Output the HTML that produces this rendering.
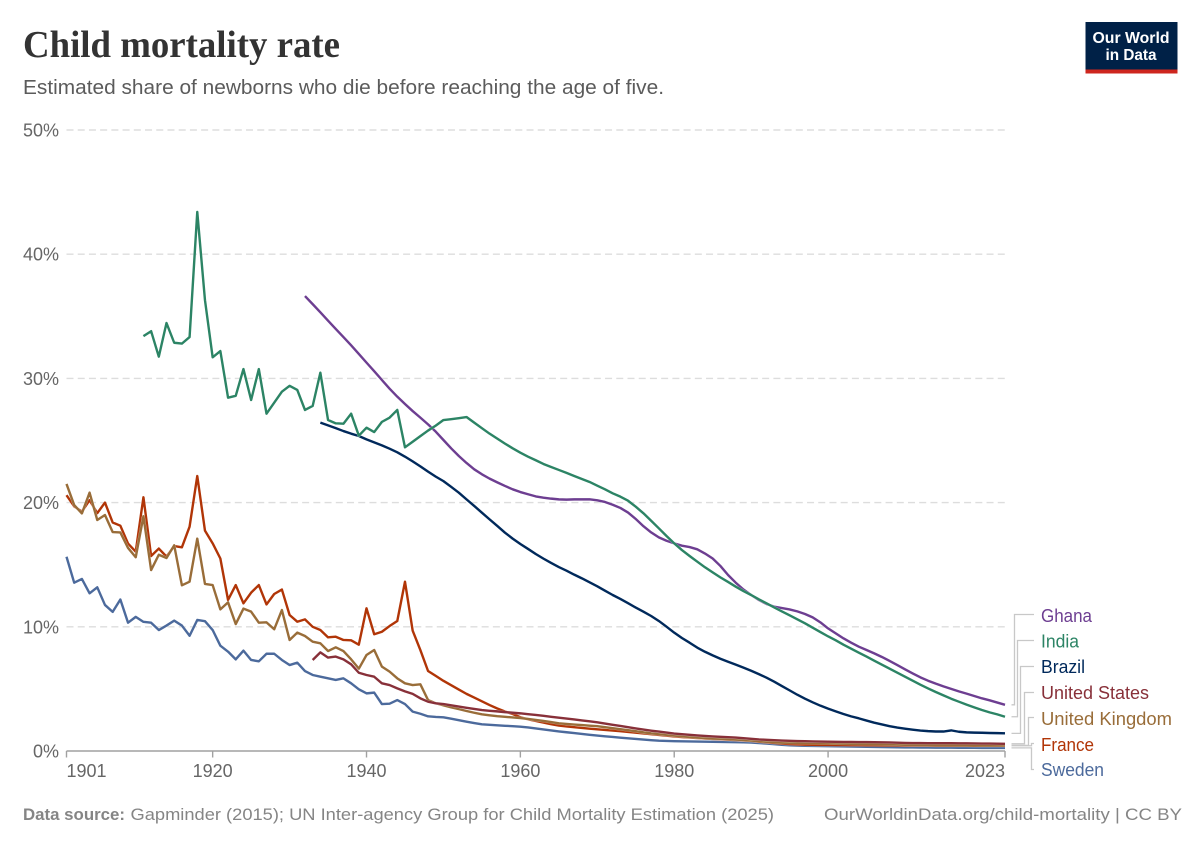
<!DOCTYPE html>
<html lang="en">
<head>
<meta charset="utf-8">
<title>Child mortality rate</title>
<style>
html,body{margin:0;padding:0;background:#fff;width:1200px;height:847px;overflow:hidden}
svg{display:block;font-family:"Liberation Sans",sans-serif}
</style>
</head>
<body>
<svg id="chart" xmlns="http://www.w3.org/2000/svg" width="1200" height="847" viewBox="0 0 1200 847">
  <text x="23" y="57" font-family="'Liberation Serif',serif" font-weight="700" font-size="38" fill="#333333" textLength="317" lengthAdjust="spacingAndGlyphs">Child mortality rate</text>
  <text x="23" y="94" font-size="20" fill="#5b5b5b" textLength="641" lengthAdjust="spacingAndGlyphs">Estimated share of newborns who die before reaching the age of five.</text>

  <g>
    <rect x="1085.5" y="22" width="92" height="51.5" fill="#002147"/>
    <rect x="1085.5" y="69.5" width="92" height="4" fill="#ce261e"/>
    <text x="1092.5" y="43" font-size="16" font-weight="700" fill="#fff" textLength="77" lengthAdjust="spacingAndGlyphs">Our World</text>
    <text x="1105.5" y="60" font-size="16" font-weight="700" fill="#fff" textLength="51" lengthAdjust="spacingAndGlyphs">in Data</text>
  </g>

  <g id="grid"></g>
  <g id="yticks"></g>
  <g id="xaxis"></g>
  <g id="connectors" fill="none" stroke="#c8c8c8" stroke-width="1.3"></g>
  <g id="lines" fill="none" stroke-linejoin="round"></g>

  <g font-size="18">
    <text x="1041" y="622" fill="#6d3e91" textLength="51" lengthAdjust="spacingAndGlyphs">Ghana</text>
    <text x="1041" y="647.5" fill="#2c8465" textLength="38" lengthAdjust="spacingAndGlyphs">India</text>
    <text x="1041" y="673" fill="#00295b" textLength="44" lengthAdjust="spacingAndGlyphs">Brazil</text>
    <text x="1041" y="699" fill="#883039" textLength="108" lengthAdjust="spacingAndGlyphs">United States</text>
    <text x="1041" y="725" fill="#996d39" textLength="131" lengthAdjust="spacingAndGlyphs">United Kingdom</text>
    <text x="1041" y="751" fill="#b13507" textLength="53" lengthAdjust="spacingAndGlyphs">France</text>
    <text x="1041" y="776" fill="#4c6a9c" textLength="63" lengthAdjust="spacingAndGlyphs">Sweden</text>
  </g>

  <text x="23" y="820" font-size="17" font-weight="700" fill="#858585" textLength="102" lengthAdjust="spacingAndGlyphs">Data source:</text>
  <text x="130.5" y="820" font-size="17" fill="#858585" textLength="643.5" lengthAdjust="spacingAndGlyphs">Gapminder (2015); UN Inter-agency Group for Child Mortality Estimation (2025)</text>
  <text x="824" y="820" font-size="17" fill="#858585" textLength="358" lengthAdjust="spacingAndGlyphs">OurWorldinData.org/child-mortality  | CC BY</text>
</svg>
<script>
var yTickValues = [0, 10, 20, 30, 40, 50];
var xTickYears = [1901, 1920, 1940, 1960, 1980, 2000, 2023];
var firstYear = 1901;
var lastYear = 2023;
var maxShare = 50;

var swedenStart = 1901;
var swedenValues = [
15.64,13.55,13.85,12.7,13.18,11.76,11.2,12.2,10.33,10.8,
10.4,10.33,9.74,10.1,10.5,10.1,9.28,10.55,10.45,9.74,
8.48,8.0,7.38,8.08,7.33,7.22,7.83,7.83,7.33,6.92,
7.11,6.44,6.12,5.98,5.85,5.72,5.85,5.45,4.97,4.64,
4.7,3.78,3.81,4.1,3.78,3.17,3.0,2.79,2.74,2.71,
2.6,2.48,2.36,2.25,2.15,2.11,2.07,2.03,2.0,1.96,
1.9,1.82,1.74,1.66,1.58,1.51,1.44,1.37,1.3,1.24,
1.18,1.13,1.07,1.02,.97,.92,.87,.83,.81,.79,
.78,.77,.76,.75,.74,.73,.72,.71,.7,.68,
.64,.6,.55,.5,.46,.44,.42,.41,.4,.39,
.38,.37,.36,.35,.34,.33,.32,.31,.3,.29,
.29,.28,.28,.27,.27,.27,.26,.26,.26,.25,
.25,.25,.25];

var franceStart = 1901;
var franceValues = [
20.6,19.7,19.27,20.2,19.15,20.0,18.4,18.14,16.7,16.05,
20.43,15.7,16.3,15.65,16.5,16.4,18.06,22.14,17.74,16.72,
15.5,12.16,13.36,11.89,12.75,13.36,11.8,12.64,13.0,10.95,
10.41,10.6,10.0,9.74,9.15,9.2,8.94,8.91,8.56,11.49,
9.4,9.6,10.06,10.47,13.63,9.69,8.13,6.44,6.05,5.65,
5.3,4.95,4.6,4.3,4.0,3.7,3.42,3.18,2.98,2.72,
2.55,2.42,2.29,2.16,2.05,1.98,1.92,1.86,1.8,1.75,
1.7,1.65,1.6,1.54,1.48,1.41,1.35,1.29,1.23,1.17,
1.12,1.08,1.04,1.0,.97,.94,.91,.88,.85,.81,
.75,.7,.65,.6,.56,.53,.51,.5,.49,.49,
.48,.48,.47,.47,.46,.46,.45,.45,.45,.44,
.44,.44,.44,.43,.43,.43,.43,.43,.42,.42,
.42,.42,.42];

var ukStart = 1901;
var ukValues = [
21.5,19.8,19.13,20.8,18.6,19.0,17.63,17.6,16.35,15.6,
18.9,14.57,15.8,15.54,16.56,13.34,13.63,17.1,13.45,13.36,
11.4,11.97,10.22,11.46,11.22,10.33,10.36,9.8,11.35,8.94,
9.53,9.26,8.8,8.67,8.05,8.35,8.05,7.38,6.63,7.73,
8.13,6.79,6.39,5.85,5.45,5.31,5.37,4.1,3.85,3.68,
3.52,3.37,3.22,3.08,2.95,2.87,2.8,2.75,2.7,2.65,
2.58,2.5,2.42,2.33,2.23,2.18,2.13,2.09,2.04,2.0,
1.92,1.84,1.76,1.68,1.6,1.5,1.42,1.36,1.3,1.24,
1.18,1.13,1.08,1.04,1.0,.98,.95,.92,.88,.84,
.79,.74,.7,.67,.66,.65,.64,.63,.62,.62,
.6,.59,.58,.57,.56,.55,.54,.53,.52,.5,
.49,.48,.48,.47,.47,.47,.46,.46,.46,.45,
.45,.45,.45];

var usStart = 1933;
var usValues = [
7.33,7.94,7.52,7.6,7.38,6.98,6.3,6.12,
5.98,5.45,5.31,5.04,4.8,4.6,4.24,3.97,3.84,3.78,
3.68,3.58,3.48,3.39,3.3,3.24,3.19,3.13,3.08,3.03,
2.96,2.9,2.83,2.75,2.68,2.61,2.54,2.46,2.39,2.31,
2.21,2.11,2.02,1.92,1.82,1.73,1.64,1.56,1.48,1.4,
1.35,1.3,1.25,1.21,1.17,1.14,1.11,1.08,1.03,.98,
.93,.9,.87,.84,.82,.8,.79,.77,.76,.75,
.74,.73,.73,.72,.72,.71,.7,.69,.67,.65,
.64,.64,.63,.63,.63,.63,.62,.62,.61,.6,
.6,.59,.58];

var brazilStart = 1934;
var brazilValues = [
26.44,26.22,26,25.76,25.55,25.36,25.09,
24.85,24.61,24.34,24.05,23.7,23.32,22.92,22.49,22.09,21.73,
21.27,20.8,20.26,19.73,19.19,18.65,18.12,17.58,17.1,16.67,
16.27,15.86,15.49,15.14,14.81,14.52,14.2,13.9,13.58,13.26,
12.91,12.56,12.24,11.9,11.55,11.22,10.87,10.47,10.01,9.53,
9.10,8.72,8.32,7.99,7.7,7.43,7.19,6.95,6.71,6.46,
6.19,5.9,5.58,5.23,4.88,4.53,4.21,3.92,3.65,3.41,
3.19,2.98,2.79,2.63,2.45,2.28,2.14,2.0,1.89,1.8,
1.72,1.65,1.6,1.57,1.57,1.66,1.55,1.5,1.48,1.47,
1.45,1.44,1.42];

var ghanaStart = 1932;
var ghanaValues = [
36.63,35.98,35.32,34.65,33.98,33.33,32.66,31.97,31.27,
30.58,29.87,29.17,28.53,27.94,27.37,26.84,26.3,25.71,25.04,
24.37,23.75,23.19,22.68,22.28,21.93,21.63,21.34,21.07,20.85,
20.67,20.5,20.4,20.32,20.26,20.24,20.26,20.26,20.26,20.18,
20.05,19.83,19.57,19.2,18.68,18.1,17.6,17.2,16.93,16.72,
16.53,16.42,16.24,15.9,15.5,14.9,14.17,13.55,13.0,12.56,
12.16,11.84,11.62,11.51,11.4,11.24,11.03,10.76,10.36,9.87,
9.47,9.07,8.72,8.4,8.13,7.86,7.57,7.25,6.92,6.58,
6.25,5.93,5.66,5.42,5.2,5.0,4.8,4.62,4.43,4.24,
4.08,3.9,3.72];

var indiaStart = 1911;
var indiaValues = [
33.4,33.8,31.75,34.46,32.87,32.8,33.33,43.4,36.3,31.7,
32.2,28.45,28.6,30.75,28.26,30.75,27.16,28.04,28.93,29.4,
29.07,27.46,27.78,30.46,26.65,26.38,26.35,27.16,25.39,26.03,
25.68,26.5,26.84,27.46,24.45,24.9,25.35,25.8,26.2,26.65,
26.72,26.8,26.89,26.44,25.99,25.55,25.15,24.75,24.37,24.02,
23.7,23.41,23.11,22.87,22.63,22.39,22.14,21.9,21.66,21.36,
21.07,20.75,20.48,20.15,19.67,19.14,18.54,17.93,17.31,16.72,
16.18,15.7,15.24,14.79,14.38,13.98,13.61,13.23,12.88,12.56,
12.21,11.89,11.56,11.24,10.92,10.6,10.28,9.93,9.58,9.23,
8.91,8.56,8.24,7.92,7.6,7.27,6.95,6.63,6.31,5.98,
5.66,5.34,5.04,4.75,4.48,4.21,3.97,3.73,3.51,3.3,
3.11,2.95,2.76];

var NS = 'http://www.w3.org/2000/svg';
var plotLeft = 66.5, plotRight = 1005, plotBottom = 751, plotTop = 130;

function xScale(year) {
  return plotLeft + (year - firstYear) / (lastYear - firstYear) * (plotRight - plotLeft);
}
function yScale(share) {
  return plotBottom - share / maxShare * (plotBottom - plotTop);
}
function make(tag, parent, attrs) {
  var node = document.createElementNS(NS, tag);
  for (var key in attrs) { node.setAttribute(key, attrs[key]); }
  parent.appendChild(node);
  return node;
}

var gridGroup = document.getElementById('grid');
var yTickGroup = document.getElementById('yticks');
yTickValues.forEach(function (value) {
  if (value > 0) {
    var gridline = make('line', gridGroup, {x1: plotLeft, x2: plotRight, y1: yScale(value), y2: yScale(value), stroke: '#dddddd', 'stroke-width': 1.4, 'stroke-dasharray': '7 4.22'});
    
    
  }
  var label = make('text', yTickGroup, {x: 59, y: yScale(value) + 6.5, 'text-anchor': 'end', 'font-size': 18, fill: '#666666'});
  label.textContent = value + '%';
  
  
});

var xGroup = document.getElementById('xaxis');
var axisLine = make('line', xGroup, {x1: plotLeft, x2: plotRight, y1: plotBottom, y2: plotBottom, stroke: '#a1a1a1', 'stroke-width': 1.4});


xTickYears.forEach(function (year, i) {
  var tx = xScale(year);
  var tick = make('line', xGroup, {x1: tx, x2: tx, y1: plotBottom, y2: plotBottom + 6.5, stroke: '#a1a1a1', 'stroke-width': 1.4});
  
  
  var anchor = i === 0 ? 'start' : (i === xTickYears.length - 1 ? 'end' : 'middle');
  var label = make('text', xGroup, {x: tx, y: 777, 'text-anchor': anchor, 'font-size': 18, fill: '#666666'});
  label.textContent = year;
  
  
});

function drawSeries(name, color, start, values) {
  var pts = values.map(function (v, i) {
    return xScale(start + i).toFixed(2) + ',' + yScale(v).toFixed(2);
  }).join(' ');
  var group = document.getElementById('lines');
  var halo = make('polyline', group, {points: pts, stroke: '#ffffff', 'stroke-width': 3, 'stroke-opacity': 0.6});
  
  
  var line = make('polyline', group, {points: pts, stroke: color, 'stroke-width': 2.4});
  
  
}
drawSeries('sweden', '#4c6a9c', swedenStart, swedenValues);
drawSeries('france', '#b13507', franceStart, franceValues);
drawSeries('united-kingdom', '#996d39', ukStart, ukValues);
drawSeries('united-states', '#883039', usStart, usValues);
drawSeries('brazil', '#00295b', brazilStart, brazilValues);
drawSeries('ghana', '#6d3e91', ghanaStart, ghanaValues);
drawSeries('india', '#2c8465', indiaStart, indiaValues);

function drawConnector(name, values, elbowX, labelY) {
  var endY = yScale(values[values.length - 1]).toFixed(2);
  var path = make('polyline', document.getElementById('connectors'), {points: '1011.5,' + endY + ' ' + elbowX + ',' + endY + ' ' + elbowX + ',' + labelY + ' 1034,' + labelY});
  
  
}
drawConnector('ghana', ghanaValues, 1014.5, 614.5);
drawConnector('india', indiaValues, 1017.5, 640.5);
drawConnector('brazil', brazilValues, 1020.5, 666.5);
drawConnector('united-states', usValues, 1024.5, 692.5);
drawConnector('united-kingdom', ukValues, 1028.5, 717.5);
drawConnector('france', franceValues, 1031.5, 743.5);
drawConnector('sweden', swedenValues, 1031.5, 769.5);
</script>
</body>
</html>
